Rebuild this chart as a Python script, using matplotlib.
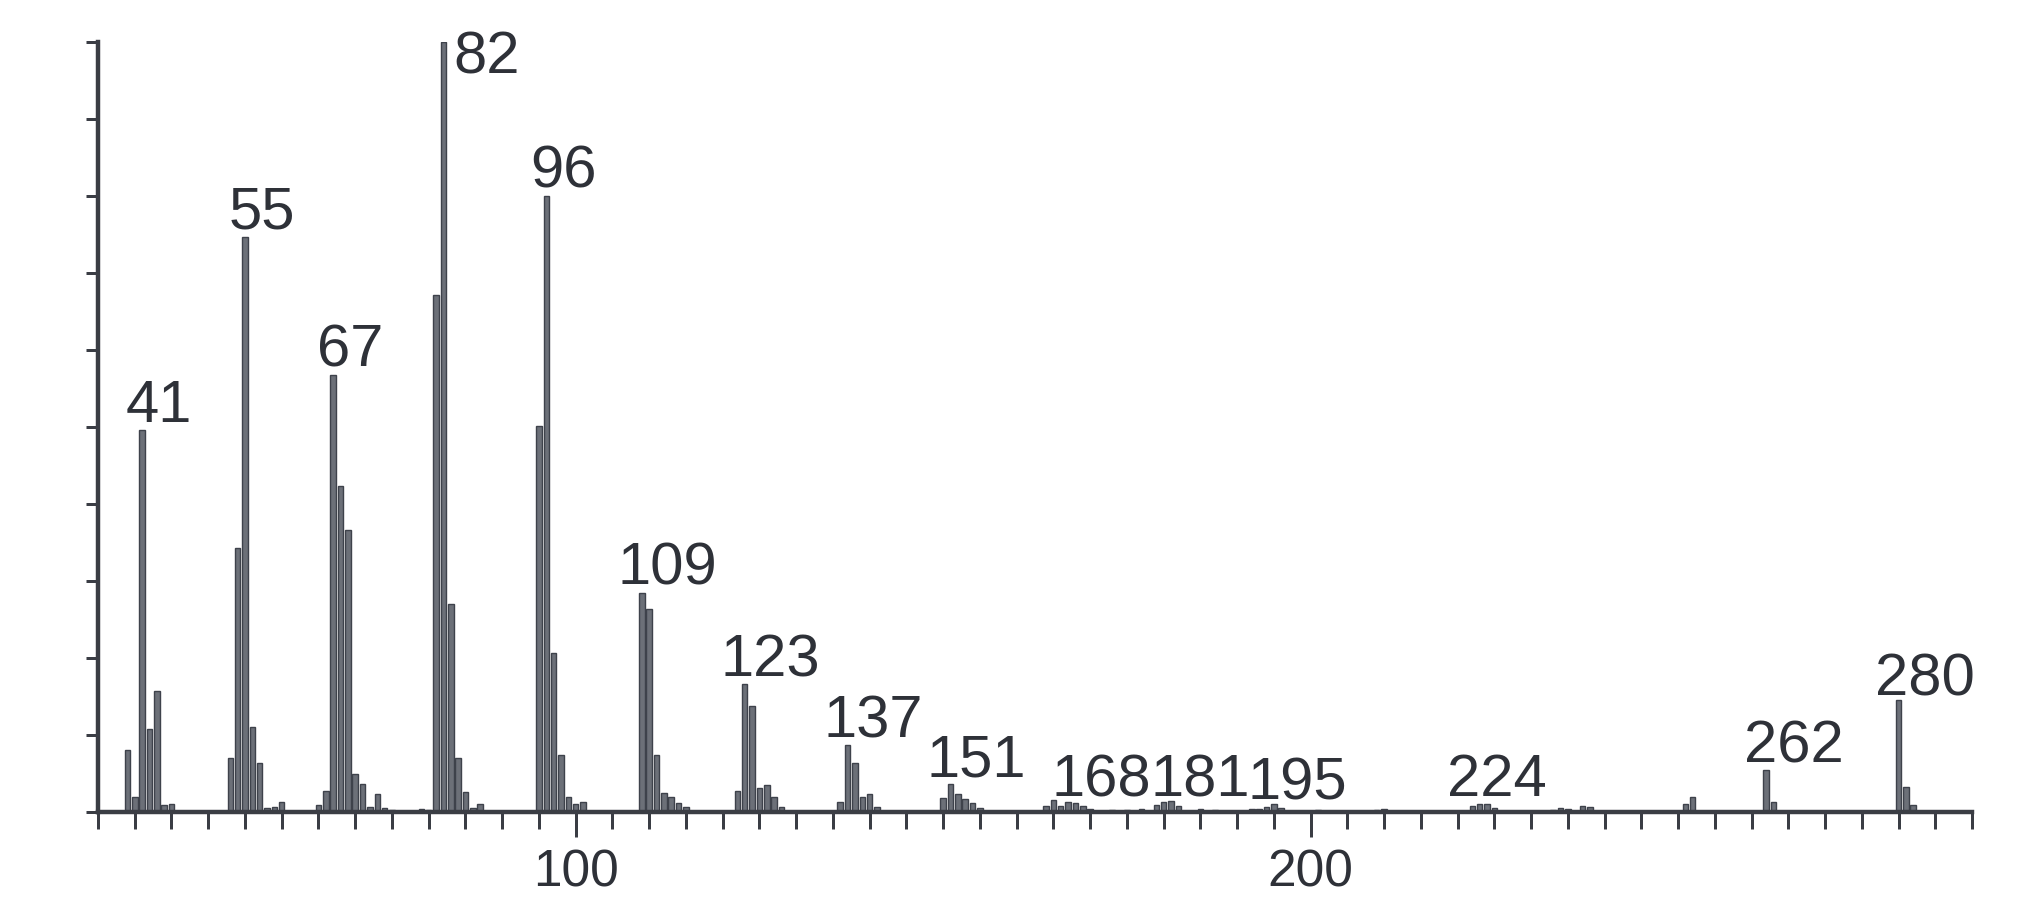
import matplotlib
matplotlib.use("Agg")
import matplotlib.pyplot as plt
from matplotlib.ticker import MultipleLocator, FixedLocator

# ---- data (m/z, relative intensity %) ----
mz = [39, 40, 41, 42, 43, 44, 45,
      53, 54, 55, 56, 57, 58, 59, 60,
      65, 66, 67, 68, 69, 70, 71, 72, 73, 74, 75,
      79, 80, 81, 82, 83, 84, 85, 86, 87,
      95, 96, 97, 98, 99, 100, 101,
      109, 110, 111, 112, 113, 114, 115,
      122, 123, 124, 125, 126, 127, 128,
      136, 137, 138, 139, 140, 141,
      150, 151, 152, 153, 154, 155,
      164, 165, 166, 167, 168, 169, 170,
      173, 175, 177, 179, 180, 181, 182, 185, 187,
      192, 193, 194, 195, 196, 201, 209, 210,
      222, 223, 224, 225, 233, 234, 235, 237, 238,
      251, 252, 262, 263, 280, 281, 282]
intensity = [8.0, 2.0, 49.6, 10.8, 15.7, 0.9, 1.1,
             7.0, 34.3, 74.7, 11.0, 6.4, 0.5, 0.6, 1.3,
             0.9, 2.7, 56.8, 42.3, 36.6, 5.0, 3.7, 0.6, 2.4, 0.5, 0.3,
             0.4, 0.3, 67.1, 100.0, 27.0, 7.0, 2.6, 0.5, 1.0,
             50.1, 80.0, 20.6, 7.4, 1.9, 1.1, 1.3,
             28.5, 26.3, 7.4, 2.5, 2.0, 1.2, 0.7,
             2.7, 16.6, 13.8, 3.1, 3.5, 2.0, 0.6,
             1.3, 8.7, 6.4, 1.9, 2.4, 0.6,
             1.8, 3.6, 2.4, 1.7, 1.2, 0.5,
             0.8, 1.5, 0.8, 1.3, 1.2, 0.8, 0.4,
             0.3, 0.3, 0.4, 0.9, 1.3, 1.4, 0.8, 0.4, 0.3,
             0.4, 0.4, 0.6, 1.0, 0.5, 0.3, 0.3, 0.4,
             0.8, 1.0, 1.0, 0.5, 0.3, 0.5, 0.4, 0.8, 0.7,
             1.1, 2.0, 5.5, 1.3, 14.5, 3.2, 0.9]
peak_labels = [41, 55, 67, 82, 96, 109, 123, 137, 151, 168, 181, 195, 224, 262, 280]
xtick_values = [100, 200]
xtick_labels = ["100", "200"]

# ---- layout ----
W, H, DPI = 2020, 899, 100
PX = 72.0 / DPI  # pixels -> points
fig = plt.figure(figsize=(W / DPI, H / DPI), dpi=DPI)
ax = fig.add_axes([98 / W, (H - 812) / H, (1972 - 98) / W, (812 - 42) / H])

bar_face = "#6c7078"
bar_edge = "#3e424b"
axis_col = "#3a3d44"
text_col = "#2e3138"

ax.bar(mz, intensity, width=0.75, color=bar_face, edgecolor=bar_edge,
       linewidth=1.0, zorder=2)

ax.set_xlim(35, 290)
ax.set_ylim(0, 100)

for s in ("top", "right"):
    ax.spines[s].set_visible(False)
for s in ("left", "bottom"):
    ax.spines[s].set_color(axis_col)
    ax.spines[s].set_linewidth(3.2)
    ax.spines[s].set_zorder(3)

ax.xaxis.set_major_locator(FixedLocator(xtick_values))
ax.set_xticklabels(xtick_labels)
ax.xaxis.set_minor_locator(MultipleLocator(5))
ax.yaxis.set_major_locator(MultipleLocator(10))
ax.set_yticklabels([])

ax.tick_params(axis="x", which="major", length=25 * PX, width=3 * PX,
               color=axis_col, labelsize=37, labelcolor=text_col, pad=8)
ax.tick_params(axis="x", which="minor", length=17 * PX, width=3 * PX,
               color=axis_col)
ax.tick_params(axis="y", which="major", length=12 * PX, width=3 * PX,
               color=axis_col)
for lab in ax.get_xticklabels():
    lab.set_fontfamily("Liberation Sans")

# label nudges in pixels (dx, dy)
nudge_default = (-16, 8)
nudges = {82: (10, -31), 109: (-24, 8), 123: (-24, 8), 137: (-24, 8),
          151: (-24, 8), 168: (-24, 6), 181: (-20, 5), 195: (-26, 5),
          224: (-40, 8), 262: (-22, 7), 280: (-24, 5)}
lookup = dict(zip(mz, intensity))
for p in peak_labels:
    dx, dy = nudges.get(p, nudge_default)
    ax.annotate(str(p), xy=(p, lookup[p]), xytext=(dx * PX, dy * PX),
                textcoords="offset points", ha="left", va="baseline",
                fontsize=43, color=text_col, family="Liberation Sans",
                annotation_clip=False)

fig.savefig("out.png", dpi=DPI, facecolor="white")
